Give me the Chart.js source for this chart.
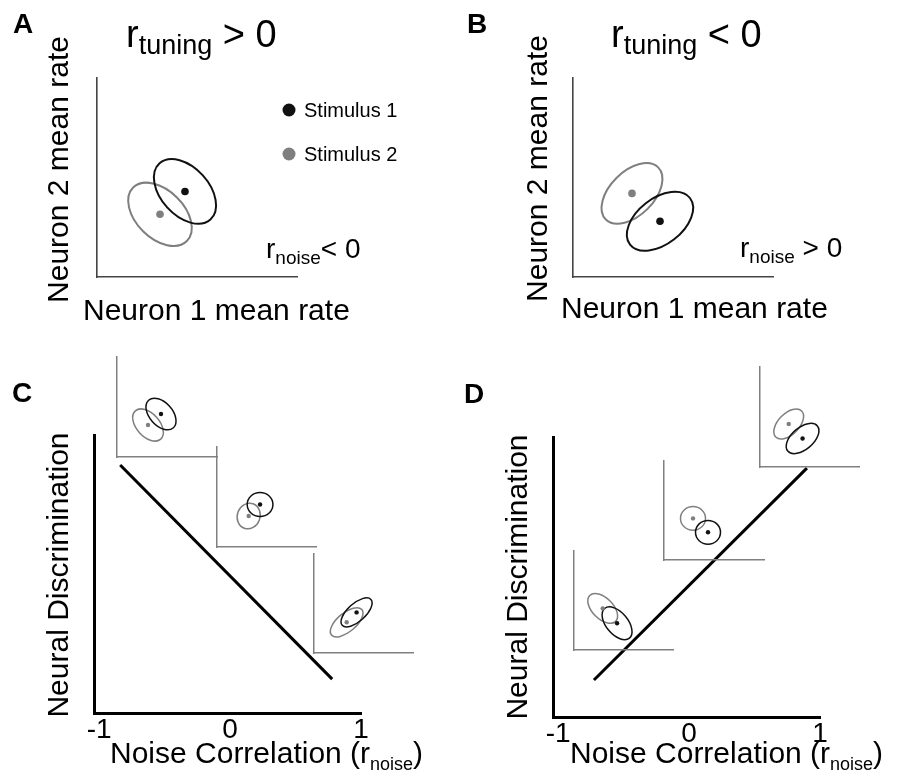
<!DOCTYPE html>
<html>
<head>
<meta charset="utf-8">
<script src="https://cdn.jsdelivr.net/npm/chart.js@4.4.1/dist/chart.umd.min.js"></script>
<style>
  html, body { margin: 0; padding: 0; background: #fff; }
  #fig { position: relative; width: 899px; height: 777px; }
  #fig canvas { position: absolute; left: 0; top: 0; }
</style>
</head>
<body>
<div id="fig"></div>
<script>
// ---- data ----
const stimLabels = ['Stimulus 1', 'Stimulus 2'];
// sub plots that show the two response clouds: A, B, insets of C and D
const plotIds = ['A', 'B', 'C1', 'C2', 'C3', 'D1', 'D2', 'D3'];
// mean rates (neuron 1, neuron 2), arbitrary units 0-10
const stim1X = [4.4, 4.35, 4.4, 4.35, 4.3, 4.35, 4.4, 4.3];
const stim1Y = [4.3, 2.8, 4.3, 4.25, 4.1, 2.7, 2.8, 2.85];
const stim2X = [3.15, 2.95, 3.1, 3.2, 3.3, 2.9, 2.9, 2.9];
const stim2Y = [3.15, 4.2, 3.2, 3.1, 3.1, 4.2, 4.2, 4.3];
// noise ellipses: semi axes (same units) and tilt in degrees
const stim1Major = [1.9, 1.9, 1.85, 1.3, 1.95, 1.95, 1.25, 1.95];
const stim1Minor = [1.2, 1.15, 1.15, 1.2, 0.9, 1.1, 1.2, 1.1];
const stim1Tilt = [-48, 38, -48, 0, 42, -50, 0, 40];
const stim2Major = [1.9, 1.85, 1.9, 1.3, 2.0, 1.85, 1.25, 1.85];
const stim2Minor = [1.2, 1.1, 1.15, 1.15, 0.95, 1.05, 1.2, 1.05];
const stim2Tilt = [-45, 45, -48, 70, 40, -45, 0, 45];

// C and D: neural discrimination against noise correlation
const rnoiseTicks = [-1, 0, 1];
const lineCX = [-0.84, 0.78];
const lineCY = [0.892, 0.122];
const lineDX = [-0.727, 0.90];
const lineDY = [0.132, 0.889];

// ---- layout ----
const W = 899, H = 777;
const FONT = '"Liberation Sans", Arial, Helvetica, sans-serif';
const BLACK = '#111111';
const GREY = '#7f7f7f';
const TICK_BAND = 40;

// plot area of each sub plot: left, top, right, bottom
const frames = {
    A: [97, 78, 297, 277], B: [573, 78, 773, 277],
    C: [94, 435, 361, 713], D: [553, 437, 820, 717],
    C1: [117, 357, 217, 457], C2: [217, 447, 316, 547], C3: [314, 554, 413, 653],
    D1: [574, 551, 673, 650], D2: [664, 461, 764, 560], D3: [760, 367, 859, 467]
};

const fig = document.getElementById('fig');

function addCanvas() {
    const c = document.createElement('canvas');
    c.width = W;
    c.height = H;
    fig.appendChild(c);
    return c;
}

function pad(f, band) {
    return { left: f[0], top: f[1], right: W - f[2], bottom: H - f[3] - (band || 0) };
}

// runs: [text, size, baseline shift, bold]
function drawRuns(ctx, runs, x, y, align, rotate) {
    const fontOf = r => (r[3] ? 'bold ' : '') + r[1] + 'px ' + FONT;
    ctx.save();
    ctx.translate(x, y);
    if (rotate) ctx.rotate(-Math.PI / 2);
    let total = 0;
    runs.forEach(r => { ctx.font = fontOf(r); total += ctx.measureText(r[0]).width; });
    let cx = align === 'center' ? -total / 2 : 0;
    ctx.textAlign = 'left';
    ctx.textBaseline = 'alphabetic';
    ctx.fillStyle = '#000';
    runs.forEach(r => {
        ctx.font = fontOf(r);
        ctx.fillText(r[0], cx, r[2] || 0);
        cx += ctx.measureText(r[0]).width;
    });
    ctx.restore();
}

function bareAxis(style) {
    return {
        type: 'linear', min: 0, max: 10,
        grid: { display: false, drawTicks: false },
        ticks: { display: false },
        border: { display: true, color: style.axis, width: style.axisWidth }
    };
}

function noiseEllipses(i, lw) {
    return {
        id: 'noiseEllipses',
        beforeDatasetsDraw(chart) {
            const { ctx, scales: { x, y } } = chart;
            const ux = x.getPixelForValue(1) - x.getPixelForValue(0);
            const uy = y.getPixelForValue(0) - y.getPixelForValue(1);
            const ells = [
                [stim2X[i], stim2Y[i], stim2Major[i], stim2Minor[i], stim2Tilt[i], GREY],
                [stim1X[i], stim1Y[i], stim1Major[i], stim1Minor[i], stim1Tilt[i], BLACK]
            ];
            ells.forEach(([cx, cy, a, b, t, col]) => {
                ctx.save();
                ctx.translate(x.getPixelForValue(cx), y.getPixelForValue(cy));
                ctx.scale(ux, -uy);
                ctx.rotate(t * Math.PI / 180);
                ctx.beginPath();
                ctx.ellipse(0, 0, a, b, 0, 0, 2 * Math.PI);
                ctx.restore();
                ctx.save();
                ctx.lineWidth = lw;
                ctx.strokeStyle = col;
                ctx.stroke();
                ctx.restore();
            });
        }
    };
}

const bigStyle = { dot: 3.8, ellipseWidth: 2, axis: '#444444', axisWidth: 1.6 };
const insetStyle = { dot: 2.2, ellipseWidth: 1.5, axis: '#808080', axisWidth: 1.5 };

function ellipseChart(id, style, draw) {
    const i = plotIds.indexOf(id);
    const plugins = [noiseEllipses(i, style.ellipseWidth)];
    if (draw) plugins.push({ id: 'labels' + id, afterDraw: draw });
    return new Chart(addCanvas(), {
        type: 'scatter',
        data: {
            datasets: [
                { label: stimLabels[0], data: [{ x: stim1X[i], y: stim1Y[i] }],
                  backgroundColor: BLACK, borderWidth: 0, pointRadius: style.dot },
                { label: stimLabels[1], data: [{ x: stim2X[i], y: stim2Y[i] }],
                  backgroundColor: GREY, borderWidth: 0, pointRadius: style.dot }
            ]
        },
        options: {
            responsive: false, animation: false, events: [],
            layout: { padding: pad(frames[id]) },
            plugins: { legend: { display: false }, tooltip: { enabled: false } },
            scales: { x: bareAxis(style), y: bareAxis(style) }
        },
        plugins: plugins
    });
}

function discriminationChart(id, xs, ys, draw) {
    return new Chart(addCanvas(), {
        type: 'scatter',
        data: {
            datasets: [{
                data: xs.map((v, k) => ({ x: v, y: ys[k] })),
                showLine: true, borderColor: '#000', borderWidth: 3, pointRadius: 0
            }]
        },
        options: {
            responsive: false, animation: false, events: [],
            layout: { padding: pad(frames[id], TICK_BAND) },
            plugins: { legend: { display: false }, tooltip: { enabled: false } },
            scales: {
                x: {
                    type: 'linear', min: -1.04, max: 1,
                    afterBuildTicks: s => { s.ticks = rnoiseTicks.map(v => ({ value: v })); },
                    afterFit: s => { s.height = TICK_BAND; },
                    grid: { display: false, drawTicks: false },
                    border: { display: true, color: '#000', width: 3 },
                    ticks: { color: '#000', font: { family: FONT, size: 28 }, padding: 0,
                             maxRotation: 0, autoSkip: false }
                },
                y: {
                    type: 'linear', min: 0, max: 1,
                    grid: { display: false, drawTicks: false },
                    ticks: { display: false },
                    border: { display: true, color: '#000', width: 3 }
                }
            }
        },
        plugins: [{ id: 'labels' + id, afterDraw: draw }]
    });
}

// ---- panel C and D (drawn first, insets go on top) ----
discriminationChart('C', lineCX, lineCY, chart => {
    const ca = chart.chartArea, ctx = chart.ctx;
    drawRuns(ctx, [['C', 28, 0, true]], ca.left - 82, ca.top - 33, 'left');
    drawRuns(ctx, [['Noise Correlation (r', 30], ['noise', 18, 7], [')', 30]],
        ca.left + 16, ca.bottom + 50, 'left');
    drawRuns(ctx, [['Neural Discrimination', 30]], ca.left - 26,
        (ca.top + ca.bottom) / 2 + 1, 'center', true);
});

discriminationChart('D', lineDX, lineDY, chart => {
    const ca = chart.chartArea, ctx = chart.ctx;
    drawRuns(ctx, [['D', 28, 0, true]], ca.left - 89, ca.top - 34, 'left');
    drawRuns(ctx, [['Noise Correlation (r', 30], ['noise', 18, 7], [')', 30]],
        ca.left + 17, ca.bottom + 46, 'left');
    drawRuns(ctx, [['Neural Discrimination', 30]], ca.left - 26,
        (ca.top + ca.bottom) / 2, 'center', true);
});

// ---- panel A ----
ellipseChart('A', bigStyle, chart => {
    const ca = chart.chartArea, ctx = chart.ctx;
    drawRuns(ctx, [['A', 28, 0, true]], ca.left - 84, ca.top - 45, 'left');
    drawRuns(ctx, [['r', 38], ['tuning', 27, 7], [' > 0', 38]], ca.left + 29, ca.top - 31, 'left');
    drawRuns(ctx, [['r', 28], ['noise', 19, 6], ['< 0', 28]], ca.left + 169, ca.bottom - 19, 'left');
    drawRuns(ctx, [['Neuron 1 mean rate', 30]], ca.left - 14, ca.bottom + 43, 'left');
    drawRuns(ctx, [['Neuron 2 mean rate', 30]], ca.left - 29,
        (ca.top + ca.bottom) / 2 - 8, 'center', true);
    // legend
    chart.data.datasets.forEach((ds, k) => {
        const lx = ca.left + 192, ly = ca.top + 32 + 44 * k;
        ctx.save();
        ctx.fillStyle = ds.backgroundColor;
        ctx.beginPath();
        ctx.arc(lx, ly, 6.5, 0, 2 * Math.PI);
        ctx.fill();
        ctx.restore();
        drawRuns(ctx, [[ds.label, 20]], lx + 15, ly + 7, 'left');
    });
});

// ---- panel B ----
ellipseChart('B', bigStyle, chart => {
    const ca = chart.chartArea, ctx = chart.ctx;
    drawRuns(ctx, [['B', 28, 0, true]], ca.left - 106, ca.top - 45, 'left');
    drawRuns(ctx, [['r', 38], ['tuning', 27, 7], [' < 0', 38]], ca.left + 38, ca.top - 31, 'left');
    drawRuns(ctx, [['r', 28], ['noise', 19, 6], [' > 0', 28]], ca.left + 167, ca.bottom - 20, 'left');
    drawRuns(ctx, [['Neuron 1 mean rate', 30]], ca.left - 12, ca.bottom + 41, 'left');
    drawRuns(ctx, [['Neuron 2 mean rate', 30]], ca.left - 26,
        (ca.top + ca.bottom) / 2 - 9, 'center', true);
});

// ---- insets ----
['C1', 'C2', 'C3', 'D1', 'D2', 'D3'].forEach(id => ellipseChart(id, insetStyle));
</script>
</body>
</html>
